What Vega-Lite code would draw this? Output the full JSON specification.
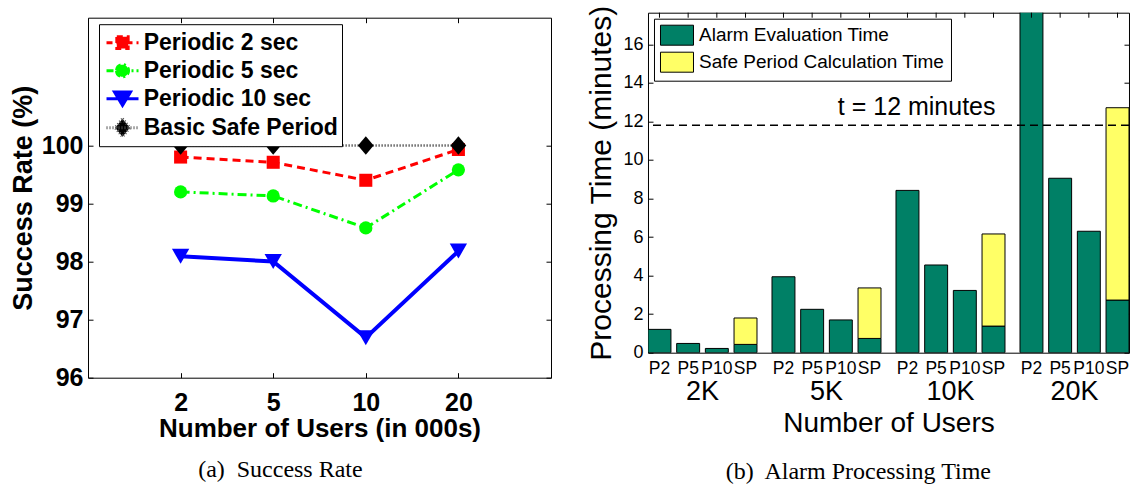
{
  "$schema": "https://vega.github.io/schema/vega-lite/v6.json",
  "padding": {"left": 8, "top": 3.7, "right": 0, "bottom": 0},
  "spacing": 34,
  "bounds": "full",
  "resolve": {
    "scale": {"fill": "independent", "stroke": "independent", "shape": "independent", "strokeDash": "independent"},
    "legend": {"fill": "independent", "stroke": "independent", "shape": "independent", "strokeDash": "independent"}
  },
  "config": {
    "font": "Liberation Sans",
    "view": {"stroke": "black", "strokeWidth": 1},
    "axis": {"labelFont": "Liberation Sans", "titleFont": "Liberation Sans", "labelColor": "black", "titleColor": "black", "tickColor": "black", "tickWidth": 1, "grid": false, "domain": false},
    "legend": {"labelColor": "black", "labelFont": "Liberation Sans"},
    "title": {"color": "black"}
  },
  "datasets": {
    "success": [
      {"series": "Periodic 2 sec", "users": 2, "rate": 99.80},
      {"series": "Periodic 2 sec", "users": 5, "rate": 99.71},
      {"series": "Periodic 2 sec", "users": 10, "rate": 99.40},
      {"series": "Periodic 2 sec", "users": 20, "rate": 99.93},
      {"series": "Periodic 5 sec", "users": 2, "rate": 99.20},
      {"series": "Periodic 5 sec", "users": 5, "rate": 99.13},
      {"series": "Periodic 5 sec", "users": 10, "rate": 98.58},
      {"series": "Periodic 5 sec", "users": 20, "rate": 99.58},
      {"series": "Periodic 10 sec", "users": 2, "rate": 98.09},
      {"series": "Periodic 10 sec", "users": 5, "rate": 98.00},
      {"series": "Periodic 10 sec", "users": 10, "rate": 96.69},
      {"series": "Periodic 10 sec", "users": 20, "rate": 98.18},
      {"series": "Basic Safe Period", "users": 2, "rate": 100},
      {"series": "Basic Safe Period", "users": 5, "rate": 100},
      {"series": "Basic Safe Period", "users": 10, "rate": 100},
      {"series": "Basic Safe Period", "users": 20, "rate": 100}
    ],
    "proc": [
      {"users": "2K", "method": "P2", "component": "Alarm Evaluation Time", "minutes": 1.21},
      {"users": "2K", "method": "P5", "component": "Alarm Evaluation Time", "minutes": 0.48},
      {"users": "2K", "method": "P10", "component": "Alarm Evaluation Time", "minutes": 0.22},
      {"users": "2K", "method": "SP", "component": "Alarm Evaluation Time", "minutes": 0.43},
      {"users": "2K", "method": "SP", "component": "Safe Period Calculation Time", "minutes": 1.37},
      {"users": "5K", "method": "P2", "component": "Alarm Evaluation Time", "minutes": 3.94},
      {"users": "5K", "method": "P5", "component": "Alarm Evaluation Time", "minutes": 2.25},
      {"users": "5K", "method": "P10", "component": "Alarm Evaluation Time", "minutes": 1.70},
      {"users": "5K", "method": "SP", "component": "Alarm Evaluation Time", "minutes": 0.74},
      {"users": "5K", "method": "SP", "component": "Safe Period Calculation Time", "minutes": 2.62},
      {"users": "10K", "method": "P2", "component": "Alarm Evaluation Time", "minutes": 8.42},
      {"users": "10K", "method": "P5", "component": "Alarm Evaluation Time", "minutes": 4.55},
      {"users": "10K", "method": "P10", "component": "Alarm Evaluation Time", "minutes": 3.23},
      {"users": "10K", "method": "SP", "component": "Alarm Evaluation Time", "minutes": 1.38},
      {"users": "10K", "method": "SP", "component": "Safe Period Calculation Time", "minutes": 4.78},
      {"users": "20K", "method": "P2", "component": "Alarm Evaluation Time", "minutes": 18.5},
      {"users": "20K", "method": "P5", "component": "Alarm Evaluation Time", "minutes": 9.05},
      {"users": "20K", "method": "P10", "component": "Alarm Evaluation Time", "minutes": 6.30},
      {"users": "20K", "method": "SP", "component": "Alarm Evaluation Time", "minutes": 2.73},
      {"users": "20K", "method": "SP", "component": "Safe Period Calculation Time", "minutes": 9.98}
    ],
    "threshold": [
      {"minutes": 11.8, "label": "t = 12 minutes", "users": "10K"}
    ]
  },
  "hconcat": [
    {
      "spacing": 0,
      "resolve": {
        "scale": {"fill": "independent", "stroke": "independent", "shape": "independent", "strokeDash": "independent"},
        "legend": {"fill": "independent", "stroke": "independent", "shape": "independent", "strokeDash": "independent"}
      },
      "vconcat": [
        {
          "width": 463,
          "height": 3.3,
          "data": {"values": []},
          "view": {"stroke": null, "fill": null},
          "mark": {"type": "rule"},
          "encoding": {}
        },
        {
          "width": 463,
          "height": 360,
          "data": {"name": "success"},
          "title": {"text": "(a)\u00a0 Success Rate", "orient": "bottom", "anchor": "middle", "frame": "bounds", "font": "Liberation Serif", "fontSize": 24, "fontWeight": "normal", "offset": 16},
          "encoding": {
            "x": {"field": "users", "type": "ordinal", "scale": {"type": "point", "padding": 1}, "axis": null},
            "y": {"field": "rate", "type": "quantitative", "scale": {"domain": [96, 102.2], "nice": false, "zero": false}, "axis": null}
          },
          "layer": [
            {
              "transform": [{"filter": "datum.series === 'Periodic 2 sec'"}],
              "mark": {"type": "line", "color": "#ff0000", "strokeWidth": 3, "strokeDash": [8, 5]},
              "encoding": {
                "x": {"field": "users", "type": "ordinal", "scale": {"type": "point", "padding": 1},
                      "axis": {"orient": "bottom", "title": "Number of Users (in 000s)", "titleFontSize": 26, "titleFontWeight": "bold", "titlePadding": 0, "labelFontSize": 25, "labelFontWeight": "bold", "labelAngle": 0, "labelPadding": 18, "tickSize": -5}},
                "y": {"field": "rate", "type": "quantitative", "scale": {"domain": [96, 102.2], "nice": false, "zero": false},
                      "axis": {"orient": "left", "title": "Success Rate (%)", "values": [96, 97, 98, 99, 100], "titleFontSize": 27, "titleFontWeight": "bold", "titlePadding": 4, "labelFontSize": 25, "labelFontWeight": "bold", "labelPadding": 10, "tickSize": -5}}
              }
            },
            {
              "transform": [{"filter": "datum.series === 'Periodic 5 sec'"}],
              "mark": {"type": "line", "color": "#00ff00", "strokeWidth": 3, "strokeDash": [9, 4, 2, 4]}
            },
            {
              "transform": [{"filter": "datum.series === 'Periodic 10 sec'"}],
              "mark": {"type": "line", "color": "#0000ff", "strokeWidth": 4}
            },
            {
              "transform": [{"filter": "datum.series === 'Basic Safe Period'"}],
              "mark": {"type": "line", "color": "#222222", "strokeWidth": 2.5, "strokeDash": [1, 2]}
            },
            {
              "transform": [{"filter": "datum.series === 'Periodic 2 sec'"}],
              "mark": {"type": "point", "filled": true, "opacity": 1, "shape": "square", "size": 170, "color": "#ff0000"}
            },
            {
              "transform": [{"filter": "datum.series === 'Periodic 5 sec'"}],
              "mark": {"type": "point", "filled": true, "opacity": 1, "shape": "circle", "size": 175, "color": "#00ff00"}
            },
            {
              "transform": [{"filter": "datum.series === 'Periodic 10 sec'"}],
              "mark": {"type": "point", "filled": true, "opacity": 1, "shape": "triangle-down", "size": 300, "color": "#0000ff"}
            },
            {
              "transform": [{"filter": "datum.series === 'Basic Safe Period'"}],
              "mark": {"type": "point", "filled": true, "opacity": 1, "shape": "M0,-1L0.85,0L0,1L-0.85,0Z", "size": 340, "color": "#000000"}
            },
            {
              "mark": {"type": "point", "filled": true, "size": 0, "opacity": 1},
              "encoding": {
                "x": {"field": "users", "type": "ordinal", "scale": {"type": "point", "padding": 1},
                      "axis": {"orient": "top", "labels": false, "title": null, "tickSize": -5, "minExtent": 0, "maxExtent": 0}},
                "y": {"field": "rate", "type": "quantitative", "scale": {"domain": [96, 102.2], "nice": false, "zero": false},
                      "axis": {"orient": "right", "labels": false, "title": null, "values": [96, 97, 98, 99, 100], "tickSize": -5, "minExtent": 0, "maxExtent": 0}},
                "fill": {"field": "series", "type": "nominal",
                         "scale": {"domain": ["Periodic 2 sec", "Periodic 5 sec", "Periodic 10 sec", "Basic Safe Period"], "range": ["#ff0000", "#00ff00", "#0000ff", "#000000"]},
                         "legend": {"title": null, "orient": "none", "legendX": 11, "legendY": 6.5, "padding": 3, "strokeColor": "black", "fillColor": "white", "symbolSize": 784, "symbolStrokeWidth": 3, "symbolOpacity": 1, "symbolFillOpacity": 1, "labelFontSize": 23, "labelFontWeight": "bold", "labelOffset": 10.7, "rowPadding": 0, "labelLimit": 0, "cornerRadius": 0}},
                "stroke": {"field": "series", "type": "nominal",
                           "scale": {"domain": ["Periodic 2 sec", "Periodic 5 sec", "Periodic 10 sec", "Basic Safe Period"], "range": ["#ff0000", "#00ff00", "#0000ff", "#555555"]},
                           "legend": {"title": null, "orient": "none"}},
                "shape": {"field": "series", "type": "nominal",
                          "scale": {"domain": ["Periodic 2 sec", "Periodic 5 sec", "Periodic 10 sec", "Basic Safe Period"],
                                    "range": [
                                      "M-0.786,0H1.5M-0.05,-0.42H0.76V0.42H-0.05Z",
                                      "M-0.786,0H1.5M-0.07,0A0.43,0.43 0 1,0 0.79,0A0.43,0.43 0 1,0 -0.07,0Z",
                                      "M-0.786,0H1.5M-0.22,-0.48H0.93L0.357,0.48Z",
                                      "M-0.786,0H1.5M0.357,-0.64L0.88,0L0.357,0.64L-0.166,0Z"
                                    ]},
                          "legend": {"title": null, "orient": "none"}},
                "strokeDash": {"field": "series", "type": "nominal",
                               "scale": {"domain": ["Periodic 2 sec", "Periodic 5 sec", "Periodic 10 sec", "Basic Safe Period"], "range": [[6, 4], [7, 3, 2, 3], [1, 0], [1, 2]]},
                               "legend": {"title": null, "orient": "none"}}
              }
            }
          ],
          "resolve": {"axis": {"x": "independent", "y": "independent"}}
        }
      ]
    },
    {
      "width": 481,
      "height": 340,
      "data": {"name": "proc"},
      "title": {"text": "(b)\u00a0 Alarm Processing Time", "orient": "bottom", "anchor": "middle", "frame": "bounds", "font": "Liberation Serif", "fontSize": 24, "fontWeight": "normal", "offset": 22},
      "layer": [
        {
          "mark": {"type": "bar", "stroke": "black", "strokeWidth": 1, "clip": true},
          "encoding": {
            "x": {"field": "users", "type": "nominal", "sort": ["2K", "5K", "10K", "20K"], "scale": {"paddingInner": 0.121, "paddingOuter": 0},
                  "axis": {"orient": "bottom", "title": "Number of Users", "titleFontSize": 28, "titleFontWeight": "normal", "titlePadding": 5, "labelFontSize": 27, "labelAngle": 0, "labelPadding": 26, "ticks": false}},
            "xOffset": {"field": "method", "type": "nominal", "sort": ["P2", "P5", "P10", "SP"], "scale": {"paddingInner": 0.2, "paddingOuter": 0}},
            "y": {"field": "minutes", "type": "quantitative", "stack": "zero", "scale": {"domain": [0, 17.64], "nice": false},
                  "axis": {"orient": "left", "title": "Processing Time (minutes)", "values": [0, 2, 4, 6, 8, 10, 12, 14, 16], "titleFontSize": 30, "titleFontWeight": "normal", "titlePadding": 6, "labelFontSize": 18, "labelPadding": 10, "tickSize": -5}},
            "fill": {"field": "component", "type": "nominal",
                     "scale": {"domain": ["Alarm Evaluation Time", "Safe Period Calculation Time"], "range": ["#008066", "#ffff66"]},
                     "legend": {"title": null, "orient": "none", "legendX": 6, "legendY": 6, "padding": 6, "strokeColor": "black", "fillColor": "white", "symbolType": "M-1,-1H2.3V1H-1Z", "symbolSize": 400, "symbolStrokeColor": "black", "symbolStrokeWidth": 1, "labelFontSize": 19, "labelOffset": 18, "rowPadding": 2, "labelLimit": 0, "cornerRadius": 0}},
            "order": {"field": "component", "type": "nominal", "sort": "ascending"}
          }
        },
        {
          "transform": [{"filter": "datum.component === 'Alarm Evaluation Time'"}],
          "mark": {"type": "text", "baseline": "top", "dy": 7, "fontSize": 17.5, "color": "black"},
          "encoding": {
            "x": {"field": "users", "type": "nominal", "sort": ["2K", "5K", "10K", "20K"], "axis": null},
            "xOffset": {"field": "method", "type": "nominal", "sort": ["P2", "P5", "P10", "SP"]},
            "y": {"datum": 0, "type": "quantitative", "axis": null},
            "text": {"field": "method"}
          }
        },
        {
          "transform": [{"filter": "datum.component === 'Alarm Evaluation Time'"}],
          "mark": {"type": "rule", "color": "black", "strokeWidth": 1},
          "encoding": {
            "x": {"field": "users", "type": "nominal", "sort": ["2K", "5K", "10K", "20K"], "axis": null},
            "xOffset": {"field": "method", "type": "nominal", "sort": ["P2", "P5", "P10", "SP"]},
            "y": {"datum": 17.64, "type": "quantitative", "axis": null},
            "y2": {"datum": 17.38}
          }
        },
        {
          "data": {"name": "threshold"},
          "mark": {"type": "rule", "color": "black", "strokeWidth": 1.5, "strokeDash": [8, 5]},
          "encoding": {
            "y": {"field": "minutes", "type": "quantitative",
                  "axis": {"orient": "right", "labels": false, "title": null, "values": [0, 2, 4, 6, 8, 10, 12, 14, 16], "tickSize": -5, "minExtent": 0, "maxExtent": 0}}
          }
        },
        {
          "data": {"name": "threshold"},
          "mark": {"type": "text", "align": "right", "baseline": "alphabetic", "dx": 45, "dy": -10.5, "fontSize": 25, "color": "black"},
          "encoding": {
            "x": {"field": "users", "type": "nominal", "sort": ["2K", "5K", "10K", "20K"], "axis": null},
            "y": {"field": "minutes", "type": "quantitative", "axis": null},
            "text": {"field": "label"}
          }
        }
      ],
      "resolve": {"axis": {"x": "independent", "y": "independent"}}
    }
  ]
}
